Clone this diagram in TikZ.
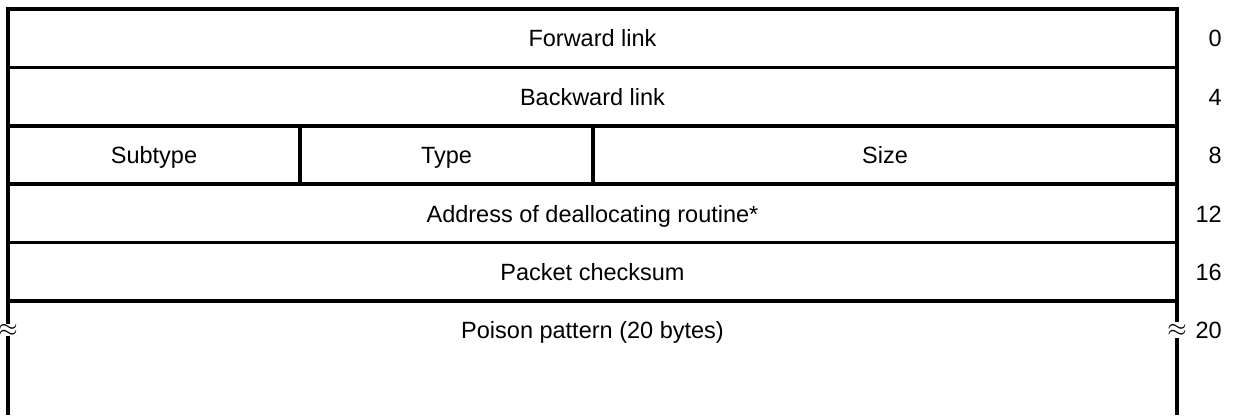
\documentclass[tikz,border=0pt]{standalone}
\usepackage{fontspec}
\setmainfont{Liberation Sans}
\begin{document}
\begin{tikzpicture}[x=1pt,y=-1pt,
  rule/.style={line width=3.6pt},
  lbl/.style={font=\fontsize{23.5}{28}\selectfont, inner sep=0pt, anchor=base},
  off/.style={font=\fontsize{23.5}{28}\selectfont, inner sep=0pt, anchor=base east},
  approx/.style={font=\fontsize{30}{32}\selectfont, inner sep=0pt, fill=white}]
\useasboundingbox (0,0) rectangle (1233,415);
% coordinates
\coordinate (TL) at (8,9);
\coordinate (TR) at (1177,9);
\coordinate (BL) at (8,415);
\coordinate (BR) at (1177,415);
% horizontal rules
\foreach \y in {9,67.5,126,184,242.5,301}{
  \draw[rule] (6.2,\y) -- (1178.8,\y);
}
% vertical outer lines
\draw[rule] (TL) -- (BL);
\draw[rule] (1177,7.2) -- (1177,322);
\draw[rule] (1177,338) -- (BR);
% field dividers
\draw[rule] (300,126) -- (300,184);
\draw[rule] (593,126) -- (593,184);
% labels (base y = row centre + half cap height)
\node[lbl] (fwd) at (592.5,46.5) {Forward link};
\node[lbl] (bwd) at (592.5,105) {Backward link};
\node[lbl] (sub) at (154,163.5) {Subtype};
\node[lbl] (typ) at (446.5,163.5) {Type};
\node[lbl] (siz) at (885,163.5) {Size};
\node[lbl] (adr) at (592.5,222) {Address of deallocating routine*};
\node[lbl] (chk) at (592.5,280.5) {Packet checksum};
\node[lbl] (poi) at (592.5,338.5) {Poison pattern (20 bytes)};
% offsets
\node[off] (o0) at (1222,46.5) {0};
\node[off] (o4) at (1222,105) {4};
\node[off] (o8) at (1222,163.5) {8};
\node[off] (o12) at (1222,222) {12};
\node[off] (o16) at (1222,280.5) {16};
\node[off] (o20) at (1222,338.5) {20};
% break marks
\node[approx] (al) at (8,330) {$\approx$};
\node[approx] (ar) at (1177,330) {$\approx$};
\end{tikzpicture}
\end{document}
